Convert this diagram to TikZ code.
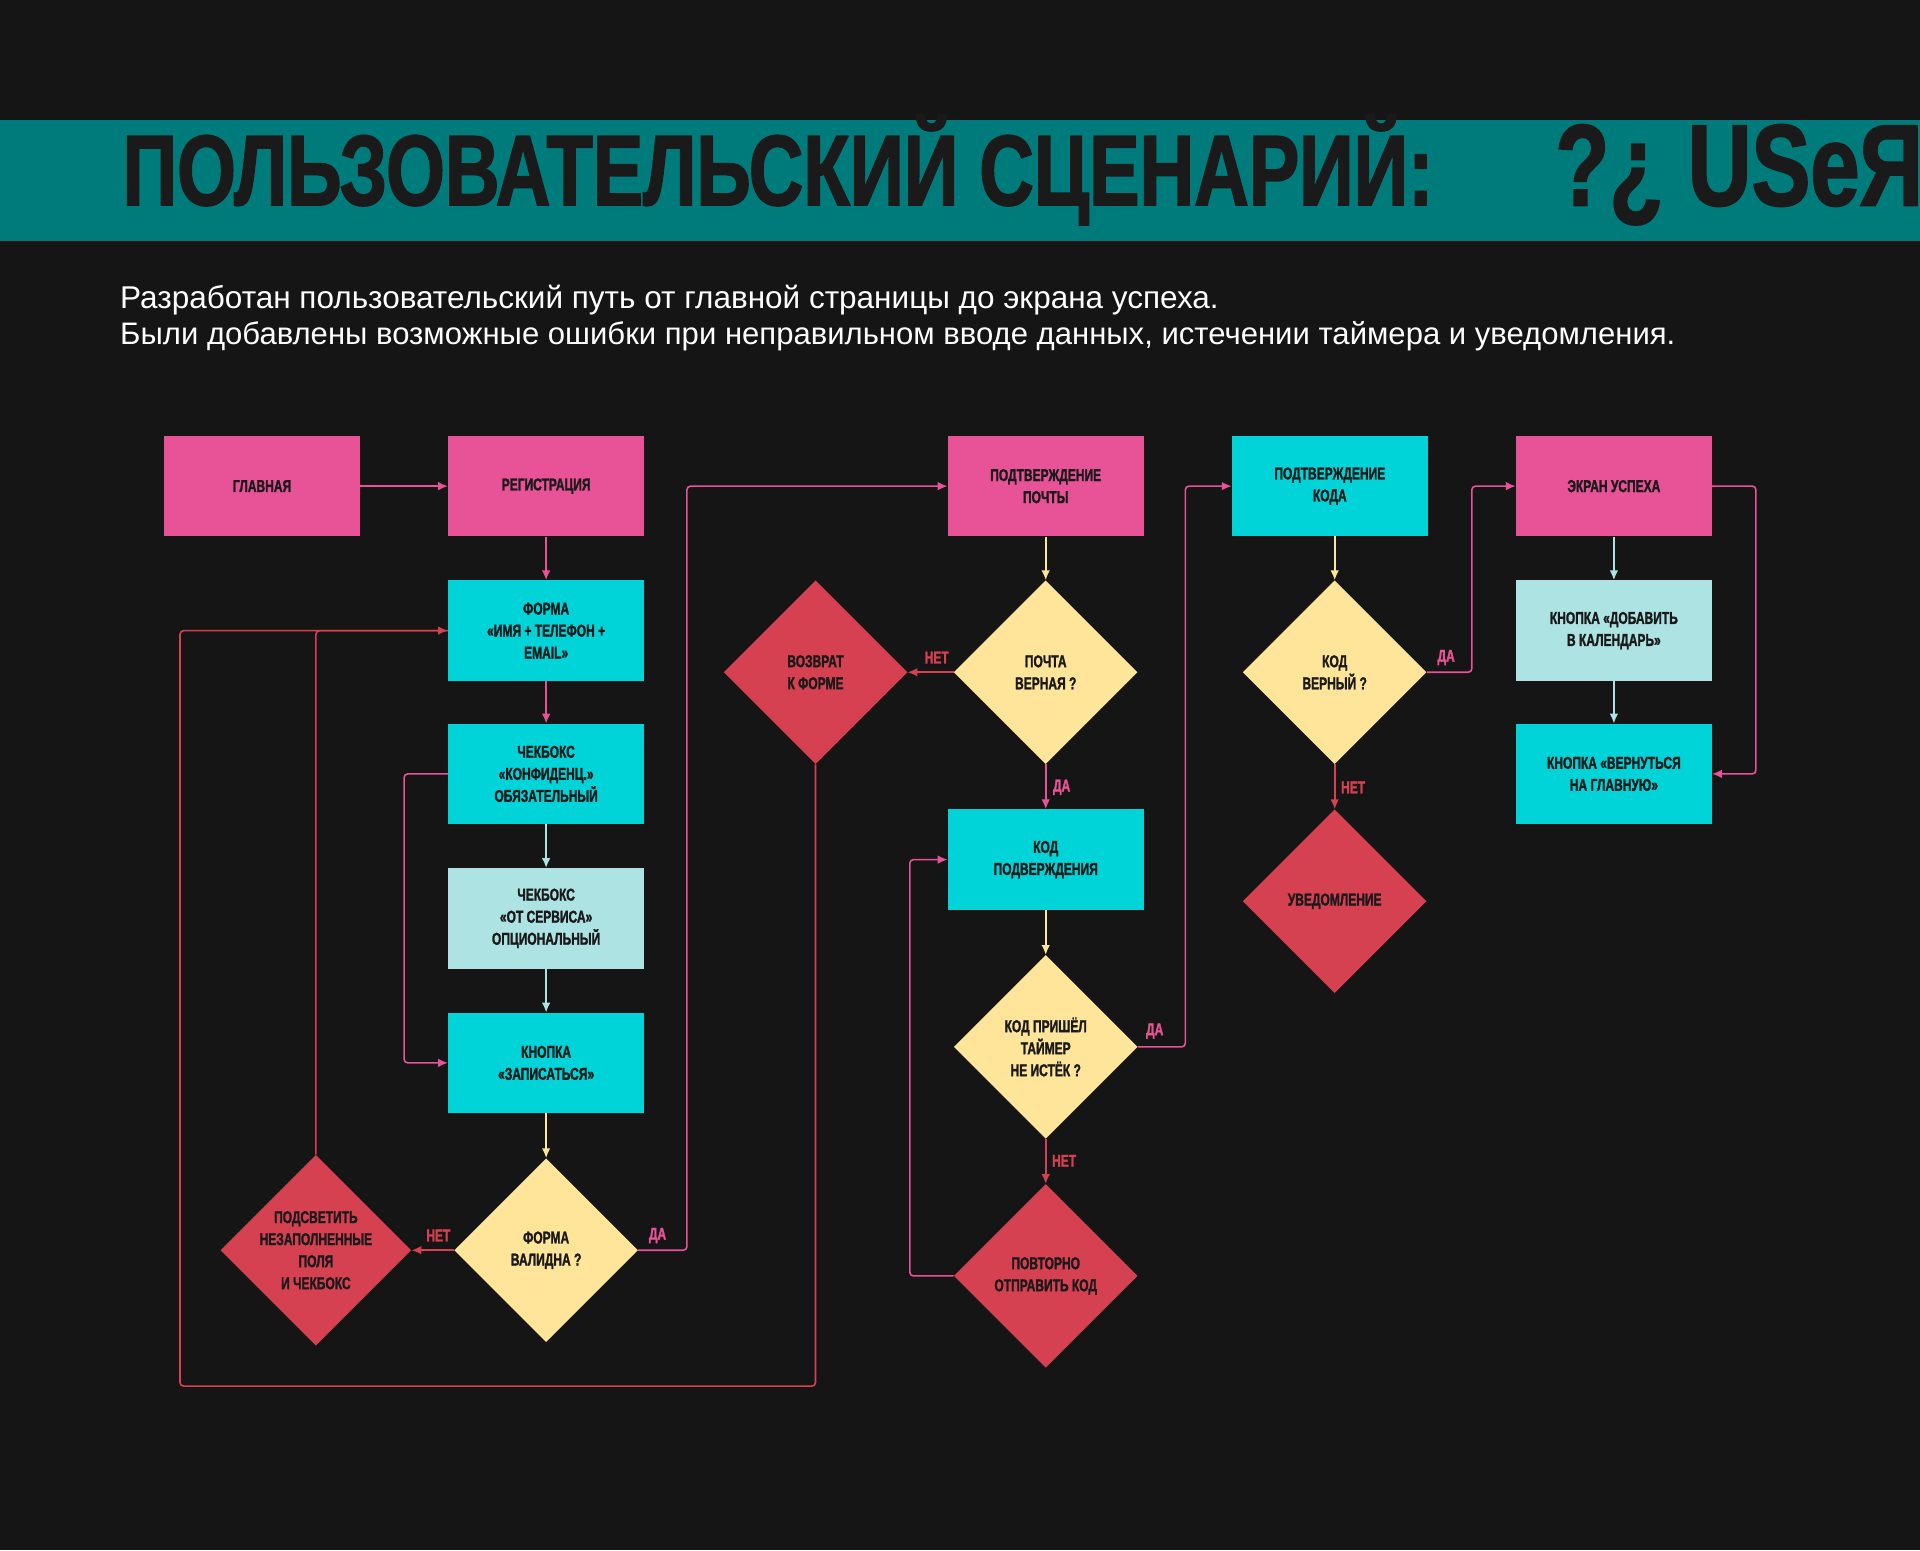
\documentclass[tikz,border=0pt]{standalone}
\usepackage{fontspec}
\setmainfont{Liberation Sans}
\newfontfamily\cnd[FakeStretch=0.72]{Liberation Sans}
\newfontfamily\cndb[FakeStretch=0.7,FakeBold=1.5]{Liberation Sans}
\usetikzlibrary{shapes.geometric,arrows.meta}
\definecolor{bg}{HTML}{151515}
\definecolor{band}{HTML}{007B7B}
\definecolor{pk}{HTML}{E85397}
\definecolor{cy}{HTML}{00D4D8}
\definecolor{lc}{HTML}{ADE3E3}
\definecolor{ye}{HTML}{FFE59A}
\definecolor{rd}{HTML}{D64152}
\definecolor{tx}{HTML}{1A1A1A}
\tikzset{
 box/.style={rectangle,minimum width=160pt,minimum height=82pt,inner sep=0pt,align=center,text=tx,font=\cndb\bfseries\fontsize{14}{18}\selectfont},
 dia/.style={diamond,minimum width=150pt,minimum height=150pt,aspect=1,inner sep=0pt,align=center,text=tx,font=\cndb\bfseries\fontsize{14}{18}\selectfont},
 ar/.style={line width=1.3pt,-{Latex[length=8pt,width=7pt]},rounded corners=3pt},
 ln/.style={line width=1.3pt,rounded corners=3pt},
 lab/.style={font=\cndb\bfseries\fontsize{14}{16}\selectfont,inner sep=0pt}
}
\begin{document}
\begin{tikzpicture}[x=1pt,y=-1pt]
\fill[bg] (0,0) rectangle (1568,1266);
\useasboundingbox (0,0) rectangle (1568,1266);
\fill[band] (0,98) rectangle (1568,197);
\node[anchor=south west,inner sep=0pt,text=tx] (title) at (100,184) {\resizebox{1070pt}{74pt}{\cndb\bfseries ПОЛЬЗОВАТЕЛЬСКИЙ СЦЕНАРИЙ:}};
\begin{scope}
\clip (0,98) rectangle (1568,197);
\node[anchor=south west,inner sep=0pt,text=tx] (user) at (1270,184) {\resizebox{300pt}{66pt}{\cndb\bfseries ?¿ USeЯ}};
\end{scope}
\node[anchor=base west,inner sep=0pt,text=white] (sub1) at (98,252) {\resizebox{897pt}{!}{Разработан пользовательский путь от главной страницы до экрана успеха.}};
\node[anchor=base west,inner sep=0pt,text=white] (sub2) at (98,281) {\resizebox{1270pt}{!}{Были добавлены возможные ошибки при неправильном вводе данных, истечении таймера и уведомления.}};

\node[box,fill=pk] (glav) at (214,397) {ГЛАВНАЯ};
\node[box,fill=pk] (reg) at (446,397) {РЕГИСТРАЦИЯ};
\node[box,fill=cy] (form) at (446,515) {ФОРМА\\«ИМЯ + ТЕЛЕФОН +\\EMAIL»};
\node[box,fill=cy] (chk1) at (446,632) {ЧЕКБОКС\\«КОНФИДЕНЦ.»\\ОБЯЗАТЕЛЬНЫЙ};
\node[box,fill=lc] (chk2) at (446,750) {ЧЕКБОКС\\«ОТ СЕРВИСА»\\ОПЦИОНАЛЬНЫЙ};
\node[box,fill=cy] (btn) at (446,868) {КНОПКА\\«ЗАПИСАТЬСЯ»};
\node[dia,fill=ye] (valid) at (446,1021) {ФОРМА\\ВАЛИДНА ?};
\node[dia,fill=rd] (hl) at (258,1021) {ПОДСВЕТИТЬ\\НЕЗАПОЛНЕННЫЕ\\ПОЛЯ\\И ЧЕКБОКС};
\node[box,fill=pk] (mail) at (854,397) {ПОДТВЕРЖДЕНИЕ\\ПОЧТЫ};
\node[dia,fill=ye] (mok) at (854,549) {ПОЧТА\\ВЕРНАЯ ?};
\node[dia,fill=rd] (back) at (666,549) {ВОЗВРАТ\\К ФОРМЕ};
\node[box,fill=cy] (code) at (854,702) {КОД\\ПОДВЕРЖДЕНИЯ};
\node[dia,fill=ye] (arr) at (854,855) {КОД ПРИШЁЛ\\ТАЙМЕР\\НЕ ИСТЁК ?};
\node[dia,fill=rd] (rep) at (854,1042) {ПОВТОРНО\\ОТПРАВИТЬ КОД};
\node[box,fill=cy] (ccode) at (1086,397) {ПОДТВЕРЖДЕНИЕ\\КОДА};
\node[dia,fill=ye] (cok) at (1090,549) {КОД\\ВЕРНЫЙ ?};
\node[dia,fill=rd] (note) at (1090,736) {УВЕДОМЛЕНИЕ};
\node[box,fill=pk] (succ) at (1318,397) {ЭКРАН УСПЕХА};
\node[box,fill=lc] (cal) at (1318,515) {КНОПКА «ДОБАВИТЬ\\В КАЛЕНДАРЬ»};
\node[box,fill=cy] (home) at (1318,632) {КНОПКА «ВЕРНУТЬСЯ\\НА ГЛАВНУЮ»};
\coordinate (cctop) at (1090,438);

\draw[ar,pk] (glav) -- (reg);
\draw[ar,pk] (reg) -- (form);
\draw[ar,pk] (form) -- (chk1);
\draw[ar,lc] (chk1) -- (chk2);
\draw[ar,lc] (chk2) -- (btn);
\draw[ar,ye] (btn) -- (valid);
\draw[ar,pk] (chk1.west) -- (330,632) -- (330,868) -- (btn.west);
\draw[ar,rd] (valid.west) -- (hl.east);
\draw[ln,rd] (hl.north) -- (258,515) -- (form.west);
\draw[ar,rd] (back.south) -- (666,1132) -- (147,1132) -- (147,515) -- (form.west);
\draw[ar,pk] (valid.east) -- (561,1021) -- (561,397) -- (mail.west);
\draw[ar,ye] (mail) -- (mok);
\draw[ar,rd] (mok.west) -- (back.east);
\draw[ar,pk] (mok.south) -- (code.north);
\draw[ar,ye] (code) -- (arr);
\draw[ar,pk] (arr.east) -- (968,855) -- (968,397) -- (ccode.west);
\draw[ar,rd] (arr.south) -- (rep.north);
\draw[ar,pk] (rep.west) -- (743,1042) -- (743,702) -- (code.west);
\draw[ar,ye] (cctop) -- (cok.north);
\draw[ar,pk] (cok.east) -- (1202,549) -- (1202,397) -- (succ.west);
\draw[ar,rd] (cok.south) -- (note.north);
\draw[ar,lc] (succ) -- (cal);
\draw[ar,lc] (cal) -- (home);
\draw[ar,pk] (succ.east) -- (1434,397) -- (1434,632) -- (home.east);

\node[lab,text=rd] (n1) at (358,1009) {НЕТ};
\node[lab,text=pk] (y1) at (537,1009) {ДА};
\node[lab,text=rd] (n2) at (765,537) {НЕТ};
\node[lab,text=pk] (y2) at (867,643) {ДА};
\node[lab,text=pk] (y3) at (943,842) {ДА};
\node[lab,text=rd] (n3) at (869,948) {НЕТ};
\node[lab,text=pk] (y4) at (1181,537) {ДА};
\node[lab,text=rd] (n4) at (1105,643) {НЕТ};
\end{tikzpicture}
\end{document}
